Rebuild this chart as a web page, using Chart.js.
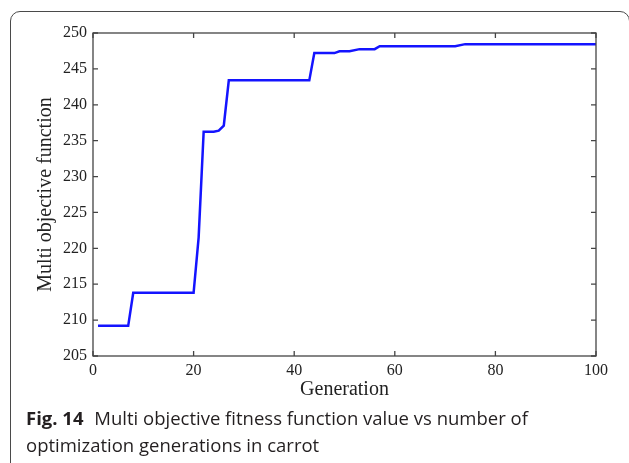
<!DOCTYPE html>
<html lang="en">
<head>
  <meta charset="UTF-8" />
  <title>Fig. 14</title>
  <script src="https://cdn.jsdelivr.net/npm/chart.js"></script>
  <style>
    html, body {
      margin: 0;
      padding: 0;
      background: #fff;
      width: 629px;
      height: 463px;
      overflow: hidden;
    }
    .frame {
      position: absolute;
      left: 10px;
      top: 11px;
      width: 618px;
      height: 460px;
      border: 1.3px solid #4a4a4a;
      border-radius: 10px;
    }
    #wrap {
      position: absolute;
      left: 0;
      top: 0;
      width: 629px;
      height: 410px;
    }
    .caption {
      position: absolute;
      left: 26px;
      top: 404px;
      font-family: 'Open Sans', sans-serif;
      font-size: 18.5px;
      line-height: 27px;
      color: #231f20;
      white-space: nowrap;
    }
    .caption b { font-weight: 700; margin-right: 6px; }
  </style>
</head>
<body>
  <div class="frame"></div>
  <div id="wrap"><canvas id="fitChart" width="629" height="410"></canvas></div>
  <div class="caption"><b>Fig. 14</b> Multi objective fitness function value vs number of<br>optimization generations in carrot</div>

  <script>
    // generation vs best fitness (vertices)
    const generations = [1, 7, 8, 20, 21, 22, 24, 25, 26, 27, 43, 44, 48, 49, 51, 53, 56, 57, 72, 74, 100];
    const fitness = [209.2, 209.2, 213.8, 213.8, 221.5, 236.25, 236.25, 236.4, 237.1, 243.4, 243.4,
                     247.2, 247.2, 247.45, 247.45, 247.75, 247.75, 248.15, 248.15, 248.45, 248.45];
    const xTicks = [0, 20, 40, 60, 80, 100];
    const yTicks = [205, 210, 215, 220, 225, 230, 235, 240, 245, 250];

    const points = generations.map((g, i) => ({ x: g, y: fitness[i] }));

    // matlab style box with inward ticks
    const boxPlugin = {
      id: 'box',
      afterDraw(chart) {
        const { ctx, chartArea: a, scales } = chart;
        ctx.save();
        ctx.strokeStyle = '#444';
        ctx.lineWidth = 1.3;
        ctx.strokeRect(a.left, a.top, a.right - a.left, a.bottom - a.top);
        ctx.beginPath();
        xTicks.forEach(v => {
          const px = scales.x.getPixelForValue(v);
          ctx.moveTo(px, a.bottom); ctx.lineTo(px, a.bottom - 5);
          ctx.moveTo(px, a.top); ctx.lineTo(px, a.top + 5);
        });
        yTicks.forEach(v => {
          const py = scales.y.getPixelForValue(v);
          ctx.moveTo(a.left, py); ctx.lineTo(a.left + 5, py);
          ctx.moveTo(a.right, py); ctx.lineTo(a.right - 5, py);
        });
        ctx.stroke();
        ctx.restore();
      }
    };

    const tickFont = { family: "'Liberation Serif', serif", size: 16 };

    new Chart(document.getElementById('fitChart'), {
      type: 'line',
      data: {
        datasets: [{
          data: points,
          borderColor: '#1414ff',
          borderWidth: 2.5,
          pointRadius: 0,
          tension: 0,
          fill: false
        }]
      },
      options: {
        responsive: false,
        animation: false,
        layout: { padding: { left: 0, top: 33, right: 33, bottom: 0 } },
        plugins: {
          legend: { display: false },
          tooltip: { enabled: false }
        },
        scales: {
          x: {
            type: 'linear',
            min: 0,
            max: 100,
            afterFit(s) { s.height = 54; },
            afterBuildTicks(s) { s.ticks = xTicks.map(v => ({ value: v })); },
            grid: { display: false, drawTicks: false },
            border: { display: false },
            ticks: { font: tickFont, color: '#222', padding: 5, maxRotation: 0 },
            title: {
              display: true,
              text: 'Generation',
              color: '#222',
              font: { family: "'Liberation Serif', serif", size: 20 },
              padding: { top: 0, bottom: 8 }
            }
          },
          y: {
            min: 205,
            max: 250,
            afterFit(s) { s.width = 93; },
            afterBuildTicks(s) { s.ticks = yTicks.map(v => ({ value: v })); },
            grid: { display: false, drawTicks: false },
            border: { display: false },
            ticks: { font: tickFont, color: '#222', padding: 6 },
            title: {
              display: true,
              text: 'Multi objective function',
              color: '#222',
              font: { family: "'Liberation Serif', serif", size: 20 },
              padding: { top: 34, bottom: 0 }
            }
          }
        }
      },
      plugins: [boxPlugin]
    });
  </script>
</body>
</html>
